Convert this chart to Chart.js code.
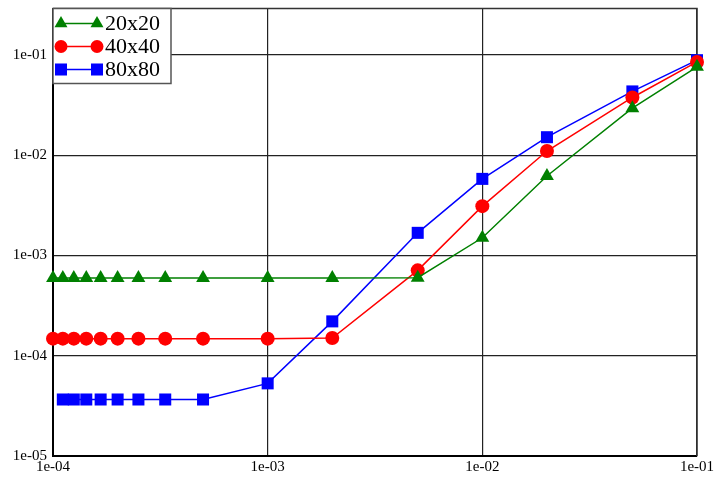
<!DOCTYPE html>
<html>
<head>
<meta charset="utf-8">
<script src="https://cdn.jsdelivr.net/npm/chart.js@4.4.1/dist/chart.umd.min.js"></script>
<style>
  html, body { margin: 0; padding: 0; background: #fff; overflow: hidden; }
  canvas { display: block; }
</style>
</head>
<body>
<canvas id="c" width="740" height="492"></canvas>
<script>
// Convergence data (log-log).
const xFine = [1e-4, 1.111e-4, 1.25e-4, 1.429e-4, 1.667e-4, 2e-4, 2.5e-4, 3.333e-4, 5e-4, 1e-3, 2e-3, 5e-3, 1e-2, 2e-2, 5e-2, 1e-1];
const xBlue = [1.111e-4, 1.25e-4, 1.429e-4, 1.667e-4, 2e-4, 2.5e-4, 3.333e-4, 5e-4, 1e-3, 2e-3, 5e-3, 1e-2, 2e-2, 5e-2, 1e-1];

const err20 = [5.95e-4, 5.95e-4, 5.95e-4, 5.95e-4, 5.95e-4, 5.95e-4, 5.95e-4, 5.95e-4, 5.95e-4, 5.95e-4, 5.97e-4, 6.0e-4, 1.5e-3, 6.2e-3, 2.94e-2, 7.6e-2];
const err40 = [1.48e-4, 1.48e-4, 1.48e-4, 1.48e-4, 1.48e-4, 1.48e-4, 1.48e-4, 1.48e-4, 1.48e-4, 1.48e-4, 1.5e-4, 7.1e-4, 3.1e-3, 1.1e-2, 3.76e-2, 8.5e-2];
const err80 = [3.66e-5, 3.66e-5, 3.66e-5, 3.66e-5, 3.66e-5, 3.66e-5, 3.66e-5, 3.66e-5, 5.3e-5, 2.2e-4, 1.68e-3, 5.8e-3, 1.51e-2, 4.32e-2, 8.85e-2];

const xTicks = [1e-4, 1e-3, 1e-2, 1e-1];
const xTickLabels = ["1e-04", "1e-03", "1e-02", "1e-01"];
const yTicks = [1e-5, 1e-4, 1e-3, 1e-2, 1e-1];
const yTickLabels = ["1e-05", "1e-04", "1e-03", "1e-02", "1e-01"];

const serif = "'Liberation Serif', 'DejaVu Serif', serif";

const pts = (xs, ys) => xs.map((x, i) => ({ x, y: ys[i] }));

const series = [
  { label: "20x20", data: pts(xFine, err20), color: "#008000", style: "triangle", radius: 8 },
  { label: "40x40", data: pts(xFine, err40), color: "#ff0000", style: "circle", radius: 7 },
  { label: "80x80", data: pts(xBlue, err80), color: "#0000ff", style: "rect", radius: 8.5 },
];

function marker(ctx, style, x, y, r, color) {
  ctx.fillStyle = color;
  ctx.beginPath();
  if (style === "circle") {
    ctx.arc(x, y, r, 0, Math.PI * 2);
  } else if (style === "rect") {
    const s = Math.SQRT1_2 * r;
    ctx.rect(x - s, y - s, 2 * s, 2 * s);
  } else {
    const w = r * Math.sqrt(3) / 2;
    ctx.moveTo(x, y - r);
    ctx.lineTo(x + w, y + r / 2);
    ctx.lineTo(x - w, y + r / 2);
    ctx.closePath();
  }
  ctx.fill();
}

// top/right border of the frame, drawn under the data
const framePlugin = {
  id: "frame",
  beforeDatasetsDraw(chart) {
    const { ctx, chartArea: a } = chart;
    ctx.save();
    ctx.strokeStyle = "#333";
    ctx.lineWidth = 1.5;
    ctx.beginPath();
    ctx.moveTo(a.left, a.top);
    ctx.lineTo(a.right, a.top);
    ctx.lineTo(a.right, a.bottom);
    ctx.stroke();
    ctx.restore();
  },
};

// boxed legend in the top-left corner with a marker at each end of the line
const legendPlugin = {
  id: "boxLegend",
  afterDraw(chart) {
    const { ctx, chartArea: a } = chart;
    const x0 = a.left, y0 = a.top, w = 118, h = 75;
    ctx.save();
    ctx.fillStyle = "#fff";
    ctx.fillRect(x0, y0, w, h);
    ctx.strokeStyle = "#555";
    ctx.lineWidth = 1.5;
    ctx.strokeRect(x0, y0, w, h);
    ctx.font = "22px " + serif;
    ctx.textBaseline = "middle";
    series.forEach((s, i) => {
      const y = y0 + 15 + i * 23;
      ctx.strokeStyle = s.color;
      ctx.lineWidth = 1.5;
      ctx.beginPath();
      ctx.moveTo(x0 + 8, y);
      ctx.lineTo(x0 + 44, y);
      ctx.stroke();
      const r = s.style === "triangle" ? 7.5 : s.style === "rect" ? 8.5 : 6.5;
      marker(ctx, s.style, x0 + 8, y, r, s.color);
      marker(ctx, s.style, x0 + 44, y, r, s.color);
      ctx.fillStyle = "#000";
      ctx.fillText(s.label, x0 + 52, y + 1);
    });
    ctx.restore();
  },
};

new Chart(document.getElementById("c"), {
  type: "line",
  data: {
    datasets: series.map((s) => ({
      label: s.label,
      data: s.data,
      borderColor: s.color,
      backgroundColor: s.color,
      borderWidth: 1.5,
      pointStyle: s.style,
      pointRadius: s.radius,
      pointBorderWidth: 0,
      pointHoverRadius: s.radius,
      tension: 0,
      clip: false,
    })),
  },
  options: {
    responsive: false,
    animation: false,
    layout: { padding: { left: 0, top: 6, right: 43, bottom: 0 } },
    plugins: { legend: { display: false }, tooltip: { enabled: false } },
    scales: {
      x: {
        type: "logarithmic",
        min: 1e-4,
        max: 1e-1,
        afterBuildTicks: (sc) => { sc.ticks = xTicks.map((v) => ({ value: v })); },
        afterFit: (sc) => { sc.height = 36; sc.paddingLeft = 0; sc.paddingRight = 0; },
        ticks: {
          autoSkip: false,
          maxRotation: 0,
          padding: 2,
          color: "#000",
          font: { family: serif, size: 15 },
          callback: (v) => xTickLabels[xTicks.indexOf(v)] ?? "",
        },
        grid: { color: "#222", lineWidth: 1.2, drawTicks: false },
        border: { display: true, color: "#000", width: 2 },
      },
      y: {
        type: "logarithmic",
        min: 1e-5,
        max: 0.29,
        afterBuildTicks: (sc) => { sc.ticks = yTicks.map((v) => ({ value: v })); },
        afterFit: (sc) => { sc.width = 53; sc.paddingTop = 0; sc.paddingBottom = 0; },
        ticks: {
          autoSkip: false,
          padding: 6,
          color: "#000",
          font: { family: serif, size: 15 },
          callback: (v) => yTickLabels[yTicks.indexOf(v)] ?? "",
        },
        grid: { color: "#222", lineWidth: 1.2, drawTicks: false },
        border: { display: true, color: "#000", width: 2 },
      },
    },
  },
  plugins: [framePlugin, legendPlugin],
});
</script>
</body>
</html>
